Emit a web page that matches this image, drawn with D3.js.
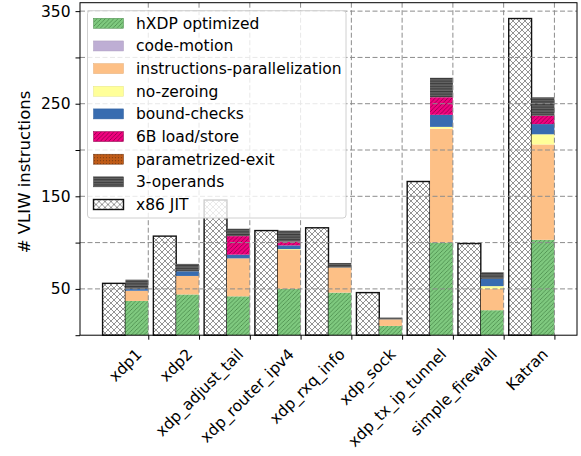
<!DOCTYPE html>
<html>
<head>
<meta charset="utf-8">
<script src="https://cdn.jsdelivr.net/npm/d3@7"></script>
<style>
  body { margin: 0; background: #fff; }
  text { font-family: "DejaVu Sans", sans-serif; fill: #000; }
</style>
</head>
<body>
<div id="chart"></div>
<script>
// benchmarks shown on the x axis
const categories = ['xdp1', 'xdp2', 'xdp_adjust_tail', 'xdp_router_ipv4', 'xdp_rxq_info',
  'xdp_sock', 'xdp_tx_ip_tunnel', 'simple_firewall', 'Katran'];

// x86 JIT instruction count (left bar of each pair)
const x86Jit = [56, 107, 146, 113, 116, 46, 166, 99, 342];

// stacked segments of the hXDP bar (bottom to top)
const hxdpOptimized = [37, 44, 42, 50, 46, 10, 100, 27, 103];
const codeMotion = [0, 0, 0, 0, 0, 0, 0, 0, 0];
const instrParallel = [11, 20, 41, 42, 27, 7, 123, 23, 103];
const noZeroing = [0, 0, 0, 1, 0, 0, 2, 3, 11];
const boundChecks = [2, 5, 4, 4, 0, 0, 13, 8, 11];
const loadStore6B = [0, 0, 20, 4, 0, 0, 19, 0, 9];
const paramExit = [0, 0, 0, 0, 0, 0, 0, 0, 0];
const threeOperands = [10, 8, 8, 12, 5, 2, 21, 7, 20];

const yTicks = [0, 50, 100, 150, 200, 250, 300, 350];
const yTickLabels = ['', '50', '', '150', '', '250', '', '350'];

const series = [
  { key: 'hXDP optimized', values: hxdpOptimized, fill: '#7fc97f', pat: 'diag', ink: '#4a8a4b' },
  { key: 'code-motion', values: codeMotion, fill: '#beaed4', pat: null },
  { key: 'instructions-parallelization', values: instrParallel, fill: '#fdc086', pat: null },
  { key: 'no-zeroing', values: noZeroing, fill: '#ffff99', pat: null },
  { key: 'bound-checks', values: boundChecks, fill: '#386cb0', pat: null },
  { key: '6B load/store', values: loadStore6B, fill: '#f0027f', pat: 'diag', ink: '#8a0049' },
  { key: 'parametrized-exit', values: paramExit, fill: '#bf5b17', pat: 'dots', ink: '#6e3410' },
  { key: '3-operands', values: threeOperands, fill: '#666666', pat: 'horiz', ink: '#3a3a3a' }
];

const W = 581, H = 456;
const plot = { left: 80, right: 577, top: 2.7, bottom: 335.2 };
const barW = 0.45;
const fontPx = '15.5px';

const svg = d3.select('#chart').append('svg')
  .attr('width', W).attr('height', H);

// --- hatch patterns ---
const defs = svg.append('defs');
function makePattern(id, fill, type, ink) {
  const size = type === 'horiz' ? 2.6 : (type === 'dots' ? 3 : 4.2);
  const p = defs.append('pattern').attr('id', id)
    .attr('patternUnits', 'userSpaceOnUse')
    .attr('width', size).attr('height', size);
  p.append('rect').attr('width', size).attr('height', size).attr('fill', fill);
  if (type === 'diag') {
    p.append('path')
      .attr('d', `M0,${size} L${size},0 M${-size / 2},${size / 2} L${size / 2},${-size / 2} M${size / 2},${size * 1.5} L${size * 1.5},${size / 2}`)
      .attr('stroke', ink).attr('stroke-width', 0.8);
  } else if (type === 'horiz') {
    p.append('rect').attr('y', 0).attr('width', size).attr('height', 1.1).attr('fill', ink);
  } else if (type === 'dots') {
    p.append('circle').attr('cx', 1.5).attr('cy', 1.5).attr('r', 0.6).attr('fill', ink);
  }
}
series.forEach((s, i) => {
  s.id = 'pat' + i;
  if (s.pat) makePattern(s.id, s.fill, s.pat, s.ink);
});
// x86 cross hatch
const xp = defs.append('pattern').attr('id', 'patx86')
  .attr('patternUnits', 'userSpaceOnUse').attr('width', 6).attr('height', 6);
xp.append('rect').attr('width', 6).attr('height', 6).attr('fill', '#fff');
xp.append('path').attr('d', 'M0,0 L6,6 M6,0 L0,6')
  .attr('stroke', '#666').attr('stroke-width', 0.7);

const fillOf = s => s.pat ? `url(#${s.id})` : s.fill;

// --- scales ---
const x = d3.scaleLinear().domain([-1.345, 8.445]).range([plot.left, plot.right]);
const y = d3.scaleLinear().domain([0, 359.1]).range([plot.bottom, plot.top]);

// --- bars: x86 JIT ---
svg.append('g').selectAll('rect')
  .data(x86Jit)
  .enter().append('rect')
  .attr('x', (d, i) => x(i - 2 * barW))
  .attr('width', x(barW) - x(0))
  .attr('y', d => y(d))
  .attr('height', d => y(0) - y(d))
  .attr('fill', 'url(#patx86)')
  .attr('stroke', '#111')
  .attr('stroke-width', 1.4);

// --- bars: hXDP stacked ---
const table = categories.map((c, i) => {
  const row = { name: c, idx: i };
  series.forEach(s => { row[s.key] = s.values[i]; });
  return row;
});
const stacked = d3.stack().keys(series.map(s => s.key))(table);

const layers = svg.append('g').selectAll('g')
  .data(stacked)
  .enter().append('g')
  .attr('fill', (d, i) => fillOf(series[i]));

layers.selectAll('rect')
  .data(d => d.filter(p => p[1] - p[0] > 0))
  .enter().append('rect')
  .attr('x', p => x(p.data.idx - barW))
  .attr('width', x(barW) - x(0))
  .attr('y', p => y(p[1]))
  .attr('height', p => y(p[0]) - y(p[1]));

// --- grid (drawn over bars, as in the original) ---
const grid = svg.append('g')
  .attr('stroke', '#8c8c8c').attr('stroke-width', 1)
  .attr('stroke-dasharray', '5,2.5');
grid.selectAll('.hg')
  .data(yTicks.filter(t => t > 0))
  .enter().append('line')
  .attr('x1', plot.left).attr('x2', plot.right)
  .attr('y1', d => y(d)).attr('y2', d => y(d));
grid.selectAll('.vg')
  .data(categories)
  .enter().append('line')
  .attr('x1', (d, i) => x(i)).attr('x2', (d, i) => x(i))
  .attr('y1', plot.top).attr('y2', plot.bottom);

// --- axes ---
const yAxis = d3.axisLeft(y)
  .tickValues(yTicks)
  .tickSize(4.5)
  .tickPadding(5)
  .tickFormat((d, i) => yTickLabels[i]);
const gy = svg.append('g')
  .attr('transform', `translate(${plot.left},0)`)
  .call(yAxis);
gy.select('.domain').remove();
gy.selectAll('text').style('font-size', fontPx).style('font-family', '"DejaVu Sans", sans-serif');
gy.selectAll('line').attr('stroke', '#000');

const xAxis = d3.axisBottom(x)
  .tickValues(d3.range(categories.length))
  .tickSize(4.5)
  .tickFormat(i => categories[i]);
const gx = svg.append('g')
  .attr('transform', `translate(0,${plot.bottom})`)
  .call(xAxis);
gx.select('.domain').remove();
gx.selectAll('line').attr('stroke', '#000');
gx.selectAll('text')
  .style('font-size', fontPx)
  .style('font-family', '"DejaVu Sans", sans-serif')
  .attr('text-anchor', 'end')
  .attr('dy', null)
  .attr('y', null)
  .attr('transform', 'translate(-6,20) rotate(-45)');

// frame
svg.append('rect')
  .attr('x', plot.left).attr('y', plot.top)
  .attr('width', plot.right - plot.left)
  .attr('height', plot.bottom - plot.top)
  .attr('fill', 'none').attr('stroke', '#000').attr('stroke-width', 1);

// y label
svg.append('text')
  .attr('transform', `translate(30,${(plot.top + plot.bottom) / 2 + 3}) rotate(-90)`)
  .attr('text-anchor', 'middle')
  .style('font-size', '16.5px')
  .text('# VLIW instructions');

// --- legend ---
const legendItems = series.map(s => ({ label: s.key, fill: fillOf(s), stroke: s.pat ? s.ink : d3.color(s.fill).darker(0.3) }))
  .concat([{ label: 'x86 JIT', fill: 'url(#patx86)', stroke: '#111' }]);

const lg = svg.append('g');
lg.append('rect')
  .attr('x', 87.5).attr('y', 10.7)
  .attr('width', 258.5).attr('height', 207.3)
  .attr('rx', 3)
  .attr('fill', 'rgba(255,255,255,0.8)')
  .attr('stroke', '#d0d0d0');

const li = lg.selectAll('.li')
  .data(legendItems)
  .enter().append('g')
  .attr('transform', (d, i) => `translate(0,${23.3 + i * 22.65})`);
li.append('rect')
  .attr('x', 93.5).attr('y', -5)
  .attr('width', 30).attr('height', 10)
  .attr('fill', d => d.fill)
  .attr('stroke', d => d.stroke)
  .attr('stroke-width', (d, i) => i === legendItems.length - 1 ? 1.4 : 0.5);
li.append('text')
  .attr('x', 136).attr('y', 0)
  .attr('dy', '0.35em')
  .style('font-size', fontPx)
  .text(d => d.label);
</script>
</body>
</html>
